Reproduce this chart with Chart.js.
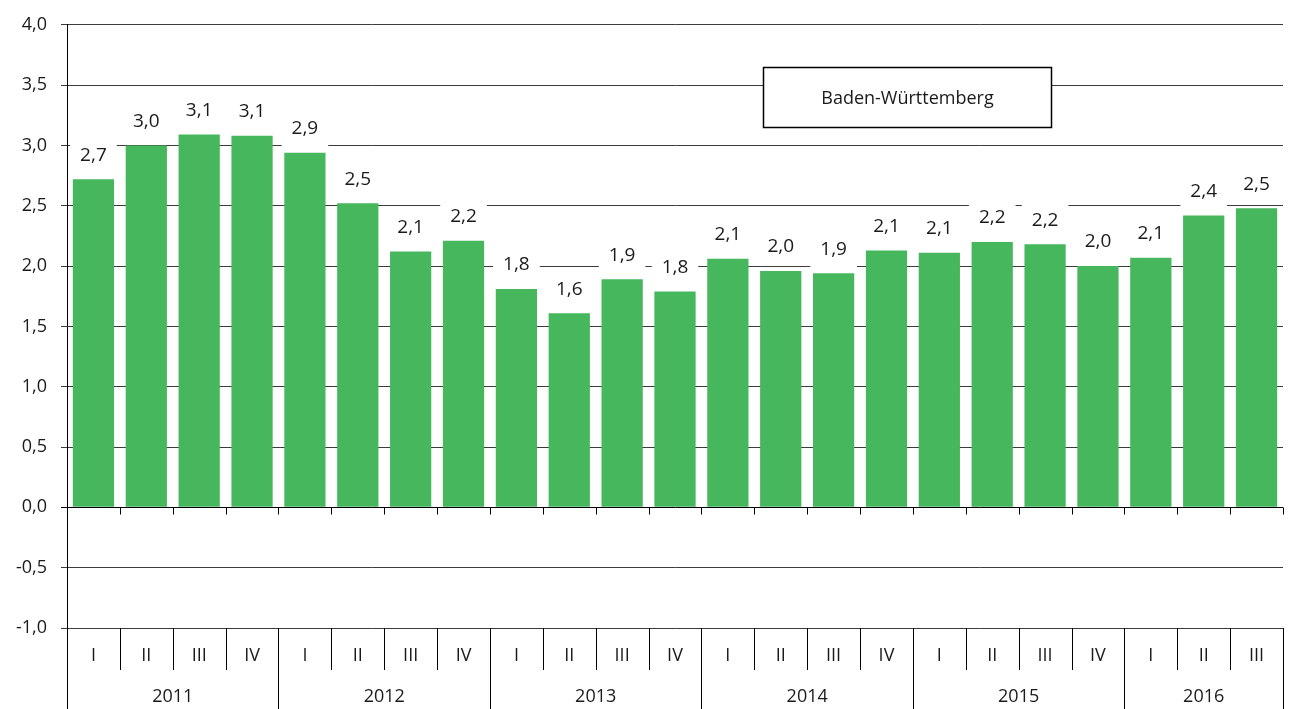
<!DOCTYPE html>
<html>
<head>
<meta charset="utf-8">
<script src="https://cdn.jsdelivr.net/npm/chart.js@4.4.1/dist/chart.umd.min.js"></script>
<style>
  html, body { margin: 0; padding: 0; background: #fff; }
</style>
</head>
<body>
<canvas id="chart" width="1290" height="709"></canvas>
<script>
// quarters 2011 I .. 2016 III
const quarterLabels = ['I', 'II', 'III', 'IV', 'I', 'II', 'III', 'IV', 'I', 'II', 'III', 'IV',
                       'I', 'II', 'III', 'IV', 'I', 'II', 'III', 'IV', 'I', 'II', 'III'];
const yearLabels = ['2011', '2012', '2013', '2014', '2015', '2016'];
const quartersPerYear = [4, 4, 4, 4, 4, 3];
const values = [2.72, 3.00, 3.09, 3.08, 2.94, 2.52, 2.12, 2.21, 1.81, 1.61, 1.89, 1.79,
                2.06, 1.96, 1.94, 2.13, 2.11, 2.20, 2.18, 2.00, 2.07, 2.42, 2.48];
const yMin = -1.0;
const yMax = 4.0;
const yStep = 0.5;
const seriesName = 'Baden-Württemberg';

const FONT = '"Open Sans", "Noto Sans", sans-serif';
const TEXT = '#1a1a1a';
const fmt = v => v.toFixed(1).replace('.', ',');

// value labels with white boxes that cut through the grid
const valueLabels = {
    id: 'valueLabels',
    afterDatasetsDraw(chart) {
        const ctx = chart.ctx;
        const meta = chart.getDatasetMeta(0);
        ctx.save();
        ctx.font = `19px ${FONT}`;
        ctx.textAlign = 'center';
        ctx.textBaseline = 'middle';
        meta.data.forEach((bar, i) => {
            const txt = fmt(values[i]);
            const w = ctx.measureText(txt).width + 20;
            const cy = bar.y - 24;
            ctx.fillStyle = '#fff';
            ctx.fillRect(bar.x - w / 2, cy - 19, w, 38);
            ctx.fillStyle = TEXT;
            ctx.fillText(txt, bar.x, cy);
        });
        ctx.restore();
    }
};

// two-level category axis + legend box
const categoryAxis = {
    id: 'categoryAxis',
    afterDraw(chart) {
        const { ctx, chartArea: a, scales: { x, y } } = chart;
        const H = chart.height;
        const n = quarterLabels.length;
        const step = x.getPixelForValue(1) - x.getPixelForValue(0);
        const y0 = Math.round(y.getPixelForValue(0)) + 0.5;
        const bottom = Math.round(a.bottom);

        const yearStarts = new Set();
        let acc = 0;
        quartersPerYear.forEach(q => { yearStarts.add(acc); acc += q; });
        yearStarts.add(n);

        ctx.save();
        ctx.strokeStyle = '#000';
        ctx.lineWidth = 1;
        ctx.beginPath();
        for (let i = 0; i <= n; i++) {
            const bx = Math.round(x.getPixelForValue(i) - step / 2) + 0.5;
            ctx.moveTo(bx, y0);
            ctx.lineTo(bx, y0 + 7);
            ctx.moveTo(bx, bottom);
            ctx.lineTo(bx, yearStarts.has(i) ? H : bottom + 42);
        }
        ctx.stroke();

        ctx.fillStyle = TEXT;
        ctx.font = `18px ${FONT}`;
        ctx.textAlign = 'center';
        ctx.textBaseline = 'middle';
        quarterLabels.forEach((q, i) => {
            ctx.fillText(q, x.getPixelForValue(i), bottom + 28);
        });
        let start = 0;
        yearLabels.forEach((yr, k) => {
            const end = start + quartersPerYear[k] - 1;
            const cx = (x.getPixelForValue(start) + x.getPixelForValue(end)) / 2;
            ctx.fillText(yr, cx, bottom + 69);
            start = end + 1;
        });

        // legend box
        const lx = Math.round(a.left + 696) + 0.5;
        const ly = Math.round(a.top + 42) + 0.5;
        ctx.fillStyle = '#fff';
        ctx.fillRect(lx, ly, 288, 60);
        ctx.lineWidth = 1.5;
        ctx.strokeRect(lx, ly, 288, 60);
        ctx.fillStyle = TEXT;
        ctx.fillText(seriesName, lx + 144, ly + 31);
        ctx.restore();
    }
};

new Chart(document.getElementById('chart'), {
    type: 'bar',
    data: {
        labels: quarterLabels,
        datasets: [{
            label: seriesName,
            data: values,
            backgroundColor: '#47b75e',
            borderWidth: 0,
            barPercentage: 0.78,
            categoryPercentage: 1.0
        }]
    },
    options: {
        responsive: false,
        animation: false,
        devicePixelRatio: 1,
        layout: { padding: { top: 23, right: 7, bottom: 81, left: 0 } },
        plugins: {
            legend: { display: false },
            tooltip: { enabled: false }
        },
        scales: {
            x: { display: false, offset: true },
            y: {
                min: yMin,
                max: yMax,
                afterFit: s => { s.width = 67; },
                ticks: {
                    stepSize: yStep,
                    padding: 14,
                    color: TEXT,
                    font: { family: FONT, size: 18 },
                    callback: v => fmt(v)
                },
                grid: {
                    color: c => (c.tick && c.tick.value === 0) ? '#000' : '#3c3c3c',
                    lineWidth: 1,
                    tickLength: 6
                },
                border: { display: true, color: '#000', width: 1 }
            }
        }
    },
    plugins: [valueLabels, categoryAxis]
});
</script>
</body>
</html>
